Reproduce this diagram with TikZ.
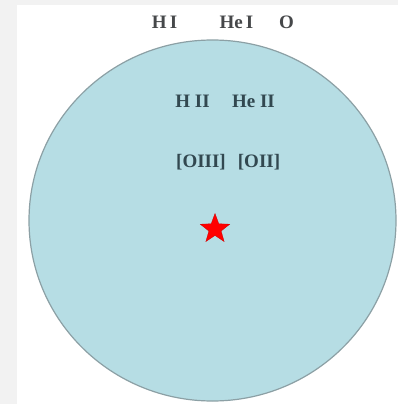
\documentclass[tikz,border=0pt]{standalone}
\usepackage{fontspec}
\setmainfont{Liberation Serif}
\usetikzlibrary{shapes.geometric}
\definecolor{nebula}{RGB}{182,221,228}
\definecolor{rim}{RGB}{140,160,165}
\definecolor{inktop}{RGB}{70,72,74}
\definecolor{inkin}{RGB}{50,72,80}
\definecolor{pagegray}{RGB}{242,242,242}
\tikzset{
  lbl/.style={font=\bfseries\fontsize{19}{19}\selectfont, inner sep=0pt, anchor=center},
}
\begin{document}
\begin{tikzpicture}[x=1pt,y=-1pt]
\useasboundingbox (0,0) rectangle (398,404);
\fill[pagegray] (0,0) rectangle (398,404);
\fill[white] (17,5) rectangle (398,404);
\node[draw=rim, line width=1.2pt, fill=nebula, ellipse, minimum width=367pt, minimum height=361pt, inner sep=0pt] (neb) at (212.5,220.5) {};
\node[lbl, text=inktop] (hi) at (164.5,22) {H\,I};
\node[lbl, text=inktop] (hei) at (236.5,22) {He\,I};
\node[lbl, text=inktop] (o) at (286.5,22) {O};
\node[lbl, text=inkin] (hii) at (192.5,101) {H II};
\node[lbl, text=inkin] (heii) at (253.5,101) {He II};
\node[lbl, text=inkin] (oiii) at (201,162) {[OIII]};
\node[lbl, text=inkin] (oii) at (259,162) {[OII]};
\node[star, star points=5, star point ratio=2.4, fill=red, draw=red!80!black, line width=0.3pt, minimum size=31pt, inner sep=0pt] (star) at (215,229) {};
\end{tikzpicture}
\end{document}
